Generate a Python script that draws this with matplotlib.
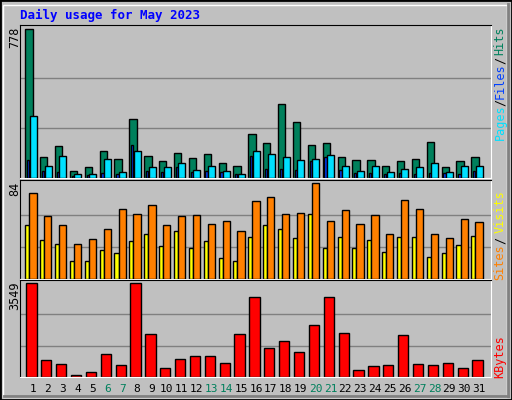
import matplotlib
matplotlib.use("Agg")
import matplotlib.pyplot as plt
from matplotlib.patches import Rectangle
from matplotlib.transforms import blended_transform_factory
import numpy as np

days = list(range(1, 32))
weekend = [6, 7, 13, 14, 20, 21, 27, 28]
hits = [778,107,165,39,55,139,97,308,113,86,128,102,123,76,65,229,181,387,292,171,181,107,92,92,60,86,97,187,55,86,107]
files = [324,60,113,23,23,97,33,139,55,55,76,44,60,39,23,139,123,107,92,97,118,60,39,60,33,49,55,76,33,60,65]
pages = [92,39,33,12,18,28,23,171,39,33,55,33,39,33,23,113,49,49,44,86,107,44,28,28,23,28,23,28,28,23,39]
visits = [75,55,47,31,35,44,61,57,65,47,55,56,48,51,42,68,72,57,58,84,51,60,48,56,39,69,61,39,36,52,50]
sites = [47,34,31,16,16,25,23,33,39,29,42,27,33,18,16,37,47,44,36,57,27,37,27,34,24,37,37,19,23,30,38]
kbytes = [3549,635,479,91,207,868,440,3549,1606,324,673,790,790,518,1606,3005,1101,1373,945,1955,3005,1645,246,401,440,1567,479,440,518,324,635]

W, H = 512, 400
fig = plt.figure(figsize=(W/100, H/100), dpi=100, facecolor="#c0c0c0")
mono = "DejaVu Sans Mono"

fig.patches.append(Rectangle((0, 0), 1, 1, transform=fig.transFigure, fill=False, ec="black", lw=2))
fig.patches.append(Rectangle((3/W, 3/H), (W-8)/W, (H-8)/H, transform=fig.transFigure, fill=False, ec="white", lw=1))
fig.lines.append(plt.Line2D([4/W, (W-4)/W], [4/H, 4/H], transform=fig.transFigure, color="#808080", lw=2))
fig.lines.append(plt.Line2D([(W-4)/W, (W-4)/W], [4/H, (H-4)/H], transform=fig.transFigure, color="#808080", lw=2))

PX = 14.87
X0 = 1 - (33 - 20) / PX
X1 = X0 + 471 / PX

def px_axes(x0, y0, x1, y1):
    ax = fig.add_axes([x0/W, 1-y1/H, (x1-x0)/W, (y1-y0)/H])
    ax.set_facecolor("#c0c0c0")
    ax.set_xlim(X0, X1)
    ax.set_xticks([])
    ax.set_yticks([])
    for s in ["left", "top"]:
        ax.spines[s].set_color("black")
    for s in ["right", "bottom"]:
        ax.spines[s].set_color("white")
    return ax

x = np.array(days, dtype=float)
ek = dict(edgecolor="black", linewidth=1)

ax1 = px_axes(20, 25, 491, 178)
top1 = max(hits)
ax1.set_ylim(0, top1 * 1.025)
for g in [top1/3, 2*top1/3]:
    ax1.axhline(g, color="#808080", lw=1, zorder=0)
ax1.bar(x - 0.52, hits, width=0.49, align="edge", color="#00805c", zorder=2, **ek)
ax1.bar(x - 0.40, pages, width=0.15, align="edge", color="#0040ff", zorder=3, **ek)
ax1.bar(x - 0.22, files, width=0.47, align="edge", color="#00e0ff", zorder=4, **ek)

ax2 = px_axes(20, 180, 491, 279)
top2 = max(visits)
ax2.set_ylim(0, top2 * 1.03)
for g in [top2/3, 2*top2/3]:
    ax2.axhline(g, color="#808080", lw=1, zorder=0)
ax2.bar(x - 0.52, sites, width=0.27, align="edge", color="#ffff00", zorder=2, **ek)
ax2.bar(x - 0.25, visits, width=0.49, align="edge", color="#ff8000", zorder=3, **ek)

ax3 = px_axes(20, 280, 491, 377)
top3 = max(kbytes)
ax3.set_ylim(0, top3 * 1.03)
for g in [top3/3, 2*top3/3]:
    ax3.axhline(g, color="#808080", lw=1, zorder=0)
ax3.bar(x - 0.45, kbytes, width=0.69, align="edge", color="#ff0000", zorder=2, **ek)

tr = blended_transform_factory(ax3.transData, fig.transFigure)
for d in days:
    fig.text(d, 1 - 389/H, str(d), transform=tr, ha="center", va="center", fontsize=8, family=mono,
             color="#00805c" if d in weekend else "black")

fig.text(20/W, 1 - 15/H, "Daily usage for May 2023", color="#0000ff", fontsize=9, family=mono,
         fontweight="bold", ha="left", va="center")

def vt(xp, yp, s, c, va="center"):
    fig.text(xp/W, 1 - yp/H, s, rotation=90, color=c, fontsize=8.5, family=mono, ha="center", va=va)

vt(15, 27, str(top1), "black", va="top")
vt(15, 182, str(top2), "black", va="top")
vt(15, 282, str(top3), "black", va="top")

vt(500, 41, "Hits", "#00805c")
vt(500, 60, "/", "black")
vt(500, 81, "Files", "#0040ff")
vt(500, 102, "/", "black")
vt(500, 122, "Pages", "#00e0ff")
vt(500, 212, "Visits", "#ffff00")
vt(500, 240, "/", "black")
vt(500, 262, "Sites", "#ff8000")
vt(500, 357, "KBytes", "#ff0000")

fig.savefig("out.png", dpi=100, facecolor=fig.get_facecolor())
